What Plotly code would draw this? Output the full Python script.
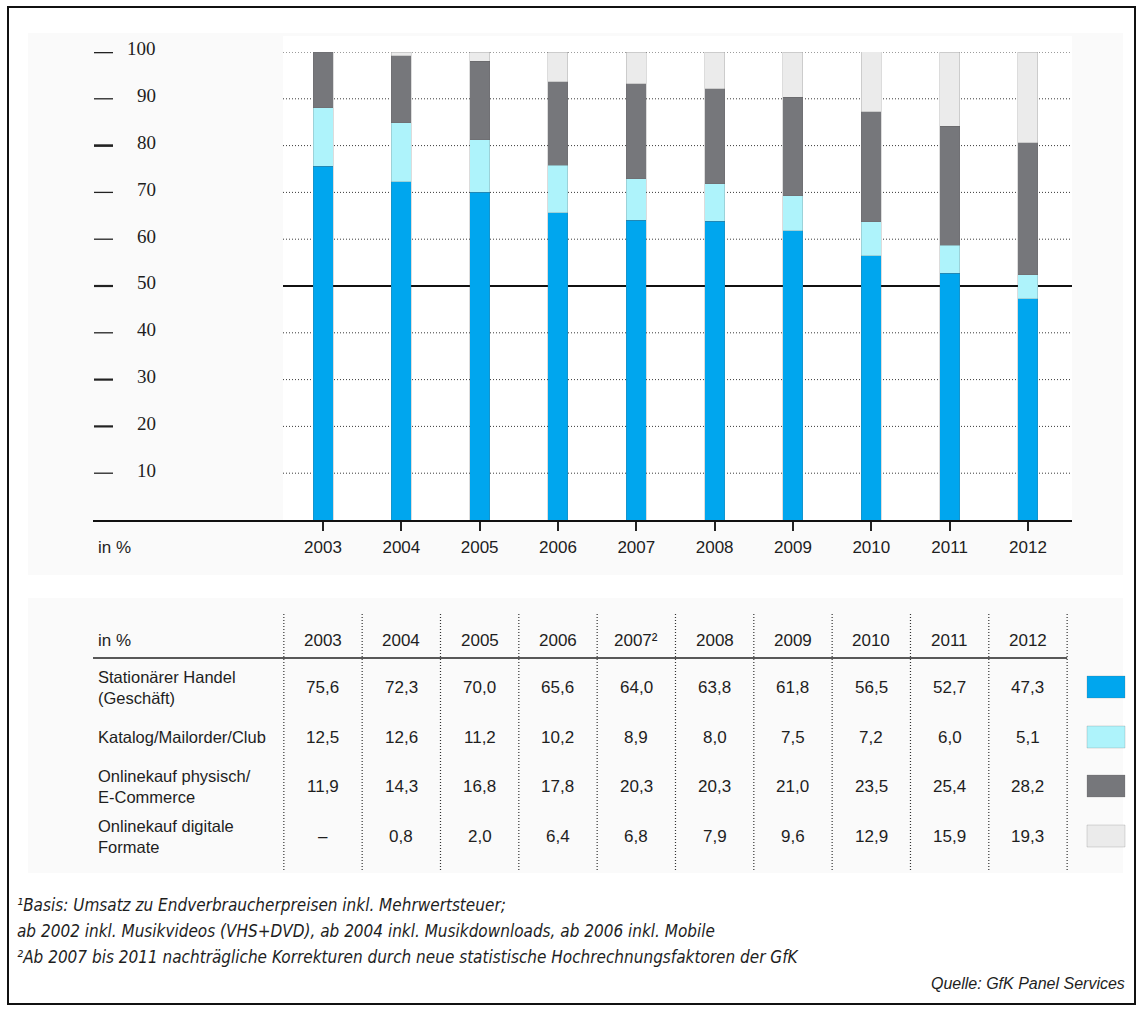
import plotly.graph_objects as go

# ---- data -------------------------------------------------------------
years = [2003, 2004, 2005, 2006, 2007, 2008, 2009, 2010, 2011, 2012]
year_headers = ["2003", "2004", "2005", "2006", "2007²", "2008", "2009", "2010", "2011", "2012"]

stationaer = [75.6, 72.3, 70.0, 65.6, 64.0, 63.8, 61.8, 56.5, 52.7, 47.3]
katalog = [12.5, 12.6, 11.2, 10.2, 8.9, 8.0, 7.5, 7.2, 6.0, 5.1]
online_physisch = [11.9, 14.3, 16.8, 17.8, 20.3, 20.3, 21.0, 23.5, 25.4, 28.2]
online_digital = [None, 0.8, 2.0, 6.4, 6.8, 7.9, 9.6, 12.9, 15.9, 19.3]

series_labels = ["Stationärer Handel<br>(Geschäft)", "Katalog/Mailorder/Club",
                 "Onlinekauf physisch/<br>E-Commerce", "Onlinekauf digitale<br>Formate"]
series_colors = ["#00a6ee", "#aef3fb", "#76777b", "#ebebeb"]

y_ticks = [10, 20, 30, 40, 50, 60, 70, 80, 90, 100]

footnotes = [
    "¹Basis: Umsatz zu Endverbraucherpreisen inkl. Mehrwertsteuer;",
    "ab 2002 inkl. Musikvideos (VHS+DVD), ab 2004 inkl. Musikdownloads, ab 2006 inkl. Mobile",
    "²Ab 2007 bis 2011 nachträgliche Korrekturen durch neue statistische Hochrechnungsfaktoren der GfK",
]
source = "Quelle: GfK Panel Services"

# ---- page geometry (pixels) ------------------------------------------
W, H = 1143, 1013
SANS = "Liberation Sans, Arial, sans-serif"
COND = "DejaVu Sans Condensed, Liberation Sans Narrow, Liberation Sans, sans-serif"
SERIF = "Liberation Serif, Times New Roman, serif"
TEXT = "#1e1e1e"


def px(x):
    return x / W


def py(y):
    return 1 - y / H


col_x0 = 323.0          # centre of the first year column
col_step = 78.33        # column spacing
plot_left, plot_right = 93, 1072
plot_top, plot_bottom = 52, 520
grid_left = 283


def col_center(i):
    return col_x0 + col_step * i


x_range = [years[0] - (col_x0 - plot_left) / col_step,
           years[-1] + (plot_right - col_center(len(years) - 1)) / col_step]

fig = go.Figure()

all_series = [stationaer, katalog, online_physisch, online_digital]
for name, vals, color in zip(series_labels, all_series, series_colors):
    fig.add_trace(go.Bar(
        x=years, y=vals, name=name.replace("<br>", " "),
        marker=dict(color=color, line=dict(width=0.6, color="rgba(90,90,90,0.35)")),
        width=20 / col_step, showlegend=False, hoverinfo="x+y",
    ))

shapes = []
annotations = []

# panels behind chart and table
PANEL = "#fafafa"
shapes.append(dict(type="rect", xref="paper", yref="paper", layer="below",
                   x0=px(28), x1=px(1123), y0=py(575), y1=py(33),
                   fillcolor=PANEL, line=dict(width=0)))
shapes.append(dict(type="rect", xref="paper", yref="paper", layer="below",
                   x0=px(grid_left), x1=px(plot_right), y0=py(plot_bottom), y1=py(36),
                   fillcolor="#ffffff", line=dict(width=0)))
shapes.append(dict(type="rect", xref="paper", yref="paper", layer="below",
                   x0=px(28), x1=px(1123), y0=py(873), y1=py(598),
                   fillcolor=PANEL, line=dict(width=0)))

# gridlines, the 50 mark and left dashes
dash_widths = {100: 2.6, 90: 1.3, 80: 2.6, 70: 1.3, 60: 1.3, 50: 2.2,
               40: 1.3, 30: 2.2, 20: 2.2, 10: 1.3}
for v in y_ticks:
    if v == 50:
        line = dict(color="#111111", width=2)
    else:
        line = dict(color="#3a3a3a", width=1, dash="1px,2px")
    shapes.append(dict(type="line", xref="paper", yref="y", layer="below",
                       x0=px(grid_left), x1=px(plot_right), y0=v, y1=v, line=line))
    shapes.append(dict(type="line", xref="paper", yref="y",
                       x0=px(94), x1=px(113), y0=v, y1=v,
                       line=dict(color="#222222", width=dash_widths[v])))
    annotations.append(dict(xref="paper", yref="y", x=px(158), y=v, yshift=3,
                            text=str(v), showarrow=False, xanchor="right", yanchor="middle",
                            font=dict(family=SERIF, size=19, color=TEXT)))

annotations.append(dict(xref="paper", yref="paper", x=px(96), y=py(547),
                        text="in %", showarrow=False, xanchor="left", yanchor="middle",
                        font=dict(family=SANS, size=17, color=TEXT)))

# ---- table --------------------------------------------------------------
header_y = 640
row_y = [687, 737, 786, 836]
dividers = [col_center(i) - col_step / 2 for i in range(len(years))] + \
           [col_center(len(years) - 1) + col_step / 2]

for xd in dividers:
    shapes.append(dict(type="line", xref="paper", yref="paper",
                       x0=px(xd), x1=px(xd), y0=py(870), y1=py(614),
                       line=dict(color="#333333", width=1.2, dash="1px,2px")))
shapes.append(dict(type="line", xref="paper", yref="paper",
                   x0=px(93), x1=px(dividers[-1]), y0=py(658), y1=py(658),
                   line=dict(color="#222222", width=1.6)))

annotations.append(dict(xref="paper", yref="paper", x=px(96), y=py(header_y),
                        text="in %", showarrow=False, xanchor="left", yanchor="middle",
                        font=dict(family=SANS, size=17, color=TEXT)))
for i, h in enumerate(year_headers):
    annotations.append(dict(xref="paper", yref="paper", x=px(col_center(i)), y=py(header_y),
                            text=h, showarrow=False, xanchor="center", yanchor="middle",
                            font=dict(family=SANS, size=17, color=TEXT)))


def fmt(v):
    return "–" if v is None else f"{v:.1f}".replace(".", ",")


for r, (label, vals, color) in enumerate(zip(series_labels, all_series, series_colors)):
    annotations.append(dict(xref="paper", yref="paper", x=px(96), y=py(row_y[r]),
                            text=label, showarrow=False, xanchor="left", yanchor="middle",
                            align="left",
                            font=dict(family=SANS, size=16.5, color=TEXT)))
    for i, v in enumerate(vals):
        annotations.append(dict(xref="paper", yref="paper", x=px(col_center(i)), y=py(row_y[r]),
                                text=fmt(v), showarrow=False, xanchor="center", yanchor="middle",
                                font=dict(family=SANS, size=17, color=TEXT)))
    shapes.append(dict(type="rect", xref="paper", yref="paper",
                       x0=px(1087), x1=px(1125), y0=py(row_y[r] + 11), y1=py(row_y[r] - 11),
                       fillcolor=color, line=dict(width=0.6, color="rgba(90,90,90,0.35)")))

# ---- footnotes ------------------------------------------------------------
for k, note in enumerate(footnotes):
    annotations.append(dict(xref="paper", yref="paper", x=px(15), y=py(905 + 26 * k),
                            text=f"<i>{note}</i>", showarrow=False, xanchor="left",
                            yanchor="middle",
                            font=dict(family=COND, size=17, color=TEXT)))
annotations.append(dict(xref="paper", yref="paper", x=px(1127), y=py(983),
                        text=f"<i>{source}</i>", showarrow=False, xanchor="right",
                        yanchor="middle",
                        font=dict(family=SANS, size=16, color=TEXT)))

# outer frame
shapes.append(dict(type="rect", xref="paper", yref="paper",
                   x0=px(8), x1=px(1135), y0=py(1004), y1=py(7),
                   line=dict(color="#111111", width=2)))

fig.update_layout(
    width=W, height=H,
    margin=dict(l=0, r=0, t=0, b=0),
    paper_bgcolor="#ffffff",
    plot_bgcolor="rgba(0,0,0,0)",
    barmode="stack",
    shapes=shapes,
    annotations=annotations,
    xaxis=dict(domain=[px(plot_left), px(plot_right)], range=x_range,
               tickvals=years, ticktext=[str(y) for y in years],
               ticks="outside", ticklen=9, tickwidth=2, tickcolor="#222222",
               ticklabelstandoff=2,
               showline=True, linecolor="#111111", linewidth=2,
               showgrid=False, zeroline=False,
               tickfont=dict(family=SANS, size=17, color=TEXT),
               fixedrange=True),
    yaxis=dict(domain=[py(plot_bottom), py(plot_top)], range=[0, 100],
               showticklabels=False, showgrid=False, zeroline=False,
               showline=False, ticks="", fixedrange=True),
)

fig.write_html("out.html")
